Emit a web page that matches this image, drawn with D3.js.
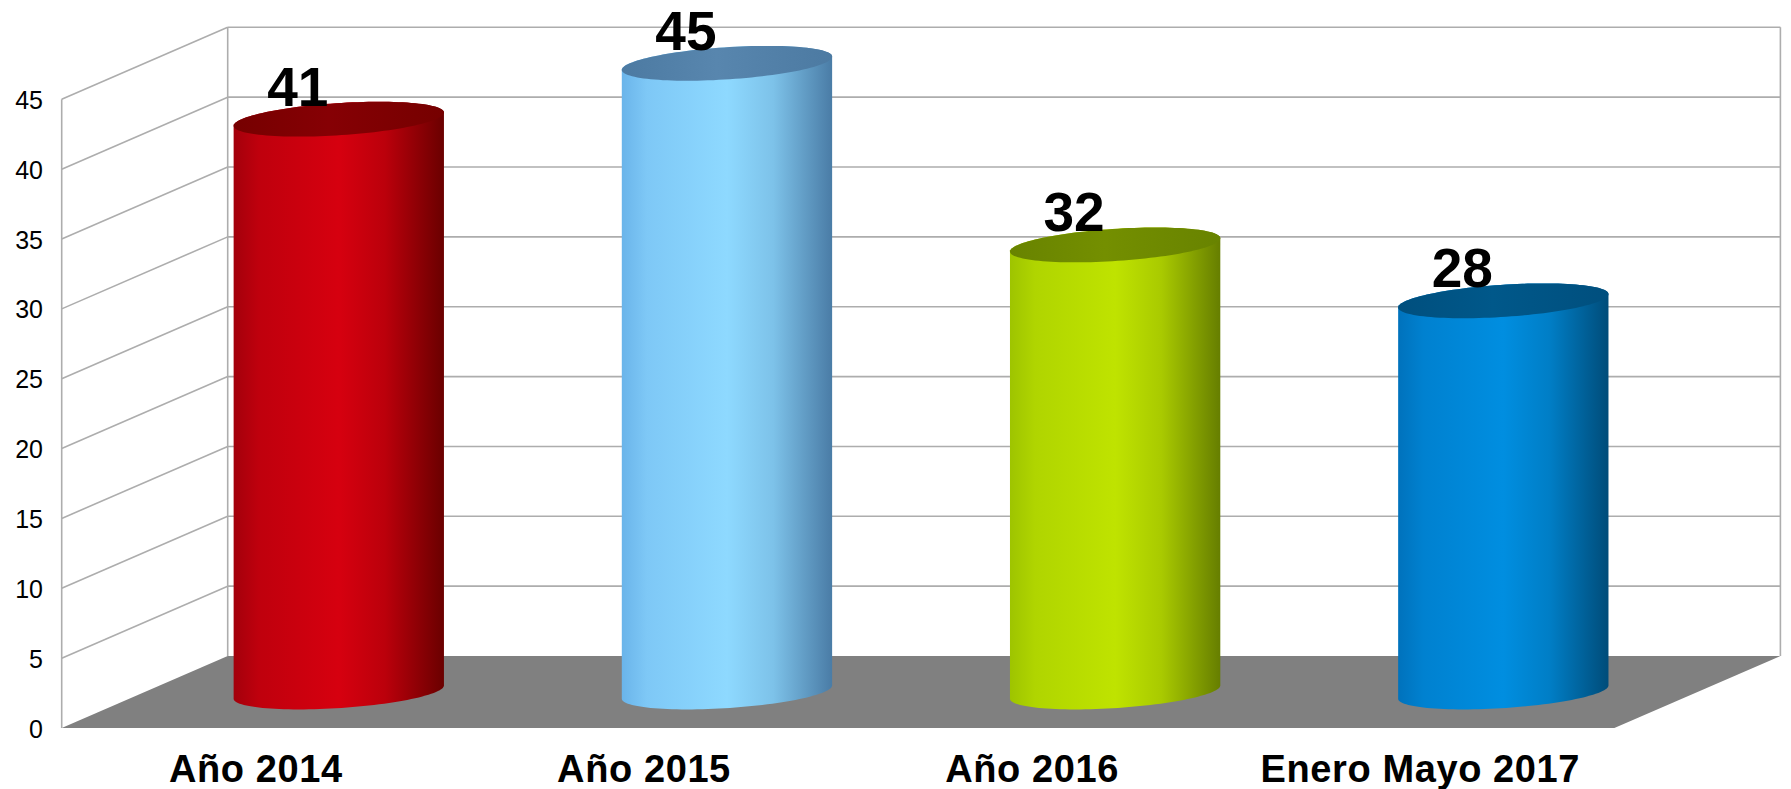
<!DOCTYPE html>
<html>
<head>
<meta charset="utf-8">
<script src="https://cdn.jsdelivr.net/npm/d3@7"></script>
<style>
  html, body { margin: 0; padding: 0; background: #ffffff; }
  svg { display: block; }
</style>
</head>
<body>
<svg id="chart" width="1791" height="789"></svg>
<script>
// ---- data ----
const categories = ["Año 2014", "Año 2015", "Año 2016", "Enero Mayo 2017"];
const values = [41, 45, 32, 28];
const yTicks = [0, 5, 10, 15, 20, 25, 30, 35, 40, 45];
const barColors = [
  { left: "#a3000b", mid: "#d6000f", right: "#6a0000", top: "#760000", topHi: "#860004" },
  { left: "#6ab4ea", mid: "#8ed9ff", right: "#4a7ca6", top: "#4c7aa2", topHi: "#5886ae" },
  { left: "#9ec400", mid: "#bfe300", right: "#667e00", top: "#688300", topHi: "#748f00" },
  { left: "#0072bc", mid: "#008ee0", right: "#004c79", top: "#004f7e", topHi: "#00588a" }
];

// ---- layout ----
const svg = d3.select("#chart");
const frontLeft = 61.7, frontRight = 1614.4;
const DX = 166, DY = -72;          // projection of full depth
const x = d3.scaleBand().domain(categories).range([frontLeft, frontRight]).padding(0);
const y = d3.scaleLinear().domain([0, 45]).range([728, 99.3]);
const yMax = 45;

const gridColor = "#adadad";
const defs = svg.append("defs");

// floor
svg.append("polygon")
  .attr("points", [
    [frontLeft, y(0)], [frontLeft + DX, y(0) + DY],
    [frontRight + DX, y(0) + DY], [frontRight, y(0)]
  ].map(p => p.join(",")).join(" "))
  .attr("fill", "#808080");

// back wall gridlines
const grid = svg.append("g").attr("stroke", gridColor).attr("stroke-width", 1.6).attr("fill", "none");
yTicks.filter(t => t > 0).forEach(t => {
  grid.append("line")
    .attr("x1", frontLeft + DX).attr("x2", frontRight + DX)
    .attr("y1", y(t) + DY).attr("y2", y(t) + DY);
  // left wall diagonal
  grid.append("line")
    .attr("x1", frontLeft).attr("y1", y(t))
    .attr("x2", frontLeft + DX).attr("y2", y(t) + DY);
});
// wall edges
grid.append("line").attr("x1", frontLeft).attr("x2", frontLeft).attr("y1", y(yMax)).attr("y2", y(0));
grid.append("line").attr("x1", frontLeft + DX).attr("x2", frontLeft + DX).attr("y1", y(yMax) + DY).attr("y2", y(0) + DY);
grid.append("line").attr("x1", frontRight + DX).attr("x2", frontRight + DX).attr("y1", y(yMax) + DY).attr("y2", y(0) + DY);

// ---- cylinders ----
const bw = x.bandwidth();
const depthLen = Math.hypot(DX, DY);
const ex = DX / depthLen, ey = DY / depthLen;
const s = depthLen * 0.242;          // depth radius (projected)
const vx = s * ex, vy = s * ey;
const r = Math.sqrt(Math.pow(bw * 0.271, 2) - vx * vx);

function ellipsePts(cx, cy, n = 120) {
  return d3.range(n).map(i => {
    const t = (i / n) * 2 * Math.PI;
    return [cx + r * Math.cos(t) + vx * Math.sin(t), cy + vy * Math.sin(t)];
  });
}

const bars = svg.append("g");
categories.forEach((c, i) => {
  const col = barColors[i];
  const cx = x(c) + bw / 2 + 0.5 * DX;
  const yb = y(0) + 0.5 * DY;
  const yt = y(values[i]) + 0.5 * DY;

  const g1 = defs.append("linearGradient").attr("id", "body" + i)
    .attr("x1", "0").attr("x2", "1").attr("y1", "0").attr("y2", "0");
  g1.append("stop").attr("offset", "0").attr("stop-color", col.left);
  g1.append("stop").attr("offset", "0.12").attr("stop-color", d3.interpolateRgb(col.left, col.mid)(0.55));
  g1.append("stop").attr("offset", "0.5").attr("stop-color", col.mid);
  g1.append("stop").attr("offset", "0.72").attr("stop-color", d3.interpolateRgb(col.mid, col.right)(0.25));
  g1.append("stop").attr("offset", "1").attr("stop-color", col.right);

  const g2 = defs.append("linearGradient").attr("id", "top" + i)
    .attr("x1", "0").attr("x2", "1").attr("y1", "0").attr("y2", "0");
  g2.append("stop").attr("offset", "0").attr("stop-color", col.top);
  g2.append("stop").attr("offset", "0.45").attr("stop-color", col.topHi);
  g2.append("stop").attr("offset", "1").attr("stop-color", col.top);

  const hull = d3.polygonHull(ellipsePts(cx, yb).concat(ellipsePts(cx, yt)));
  bars.append("path")
    .attr("d", "M" + hull.map(p => p.join(",")).join("L") + "Z")
    .attr("fill", `url(#body${i})`);
  bars.append("path")
    .attr("d", "M" + ellipsePts(cx, yt).map(p => p.join(",")).join("L") + "Z")
    .attr("fill", `url(#top${i})`);

  // value label
  svg.append("text")
    .attr("x", cx - 41)
    .attr("y", yt - 13.5)
    .attr("text-anchor", "middle")
    .attr("font-family", "'Liberation Sans', Arial, sans-serif")
    .attr("font-weight", "bold")
    .attr("font-size", 55)
    .attr("fill", "#000")
    .text(values[i]);
});

// ---- axes ----
const yAxis = d3.axisLeft(y).tickValues(yTicks).tickSize(0).tickPadding(0).tickFormat(d3.format("d"));
const ya = svg.append("g").attr("transform", `translate(${43},0)`).call(yAxis);
ya.select(".domain").remove();
ya.selectAll("text")
  .attr("font-family", "'Liberation Sans', Arial, sans-serif")
  .attr("font-size", 25)
  .attr("fill", "#000")
  .attr("dy", "0.36em");

const xAxis = d3.axisBottom(x).tickSize(0).tickPadding(0);
const xa = svg.append("g").attr("transform", `translate(0,${y(0)})`).call(xAxis);
xa.select(".domain").remove();
xa.selectAll("text")
  .attr("font-family", "'Liberation Sans', Arial, sans-serif")
  .attr("font-weight", "bold")
  .attr("font-size", 38)
  .attr("letter-spacing", 0.6)
  .attr("fill", "#000")
  .attr("y", 0)
  .attr("dy", 53.7);
</script>
</body>
</html>
